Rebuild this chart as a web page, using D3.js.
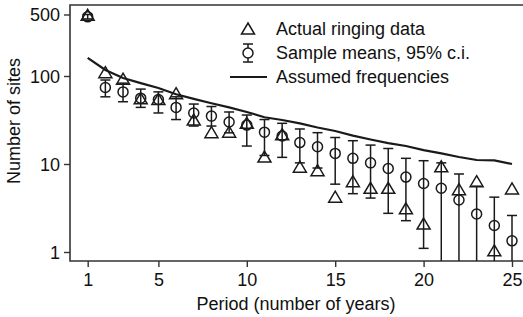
<!doctype html>
<meta charset="utf-8">
<title>Ringing sites</title>
<script src="https://cdn.jsdelivr.net/npm/d3@7/dist/d3.min.js"></script>
<style>
  body { margin: 0; background: #fff; }
  text { font-family: Arial, "Liberation Sans", sans-serif; fill: #111; }
</style>
<svg id="chart" width="523" height="317"></svg>
<script>
  // period in years
  const periods = d3.range(1, 26)
  // actual ringing data (triangles)
  const actual = [490, 109, 92, 55, 54, 63, 31.6, 22.7, 23, 29, 12, 21.5, 9.2, 8.4, 4.2, 6.3, 5.3, 5.3, 3.1, 2.08, 9.3, 5.1, 6.3, 1.03, 5.2]
  // sample means (circles) with 95% c.i.
  const means = [470, 74, 66, 56, 54, 44, 38, 35, 30, 27.7, 23, 20.8, 17.5, 15.7, 13.2, 11.6, 10.3, 8.9, 7.1, 6.0, 5.3, 3.9, 2.7, 2.0, 1.34]
  const ciHigh = [500, 90, 83, 71, 66, 58, 48, 45, 39, 36, 32, 29, 25, 22.7, 20, 18.4, 16.4, 15, 11.6, 10.9, 10.3, 7.7, 5.6, 4.2, 2.6]
  const ciLow = [445, 58, 51, 44, 38, 32, 27, 27, 22.6, 16, 12.5, 11.9, 10.3, 9, 5.9, 4.6, 4.1, 2.75, 2.27, 1.1, 0, 0, 0, 0, 0]
  // assumed frequencies (line)
  const assumed = [161, 117, 95, 83, 73, 62, 55, 49, 44, 39, 34, 31.6, 29, 26, 23.7, 21, 19, 17.3, 16, 14.4, 13.2, 12, 11.1, 11, 10]

  const xTicks = [1, 5, 10, 15, 20, 25]
  const yTicks = [1, 10, 100, 500]

  const plotLeft = 70, plotTop = 5, plotBottom = 261
  const svg = d3.select('#chart')

  const x = d3.scaleLinear().domain([0, 26]).range([plotLeft, plotLeft + 26 * 17.68])
  const y = d3.scaleLog().domain([Math.pow(10, -9 / 88), Math.pow(10, 247 / 88)]).range([plotBottom, plotTop])
  const yc = v => (v <= 0 ? plotBottom : Math.min(plotBottom, y(v)))

  const ink = '#1a1a1a'

  // frame: top, left, bottom
  svg.append('path')
    .attr('d', `M${523},${plotTop} H${plotLeft} V${plotBottom} H${523}`)
    .attr('fill', 'none').attr('stroke', '#333').attr('stroke-width', 1.6)

  // axes
  const xAxis = svg.append('g').attr('transform', `translate(0,${plotBottom})`)
    .call(d3.axisBottom(x).tickValues(xTicks).tickSize(6).tickPadding(6))
  const yAxis = svg.append('g').attr('transform', `translate(${plotLeft},0)`)
    .call(d3.axisLeft(y).tickValues(yTicks).tickFormat(d3.format('d')).tickSize(6).tickPadding(4))
  ;[xAxis, yAxis].forEach(g => {
    g.select('.domain').remove()
    g.selectAll('.tick line').attr('stroke', '#333').attr('stroke-width', 1.4)
    g.selectAll('.tick text').attr('font-size', 18).attr('font-family', 'Arial, "Liberation Sans", sans-serif').attr('fill', '#111')
  })
  yAxis.selectAll('.tick text').attr('dy', '0.35em')

  // axis titles
  svg.append('text')
    .attr('x', 296).attr('y', 310)
    .attr('text-anchor', 'middle').attr('font-size', 18)
    .text('Period (number of years)')
  svg.append('text')
    .attr('transform', 'translate(20,121) rotate(-90)')
    .attr('text-anchor', 'middle').attr('font-size', 18)
    .text('Number of sites')

  // assumed frequencies line
  svg.append('path')
    .datum(periods)
    .attr('fill', 'none').attr('stroke', ink).attr('stroke-width', 2.2)
    .attr('d', d3.line().x(d => x(d)).y((d, i) => y(assumed[i])))

  // error bars
  const eb = svg.append('g').attr('stroke', ink).attr('stroke-width', 1.5).attr('fill', 'none')
  periods.forEach((p, i) => {
    const cx = x(p)
    const y1 = yc(ciHigh[i]), y0 = yc(ciLow[i])
    eb.append('line').attr('x1', cx).attr('x2', cx).attr('y1', y1).attr('y2', y0)
    eb.append('line').attr('x1', cx - 5).attr('x2', cx + 5).attr('y1', y1).attr('y2', y1)
    if (ciLow[i] > 0) {
      eb.append('line').attr('x1', cx - 5).attr('x2', cx + 5).attr('y1', y0).attr('y2', y0)
    }
  })

  // circles (sample means)
  svg.append('g').selectAll('circle')
    .data(periods)
    .join('circle')
    .attr('cx', d => x(d)).attr('cy', (d, i) => y(means[i])).attr('r', 5)
    .attr('fill', 'none').attr('stroke', ink).attr('stroke-width', 1.5)

  // triangles (actual ringing data)
  const tri = (cx, cy) => `M${cx},${cy - 6} L${cx + 6.5},${cy + 5} L${cx - 6.5},${cy + 5} Z`
  svg.append('g').selectAll('path')
    .data(periods)
    .join('path')
    .attr('d', (d, i) => tri(x(d), y(actual[i])))
    .attr('fill', 'none').attr('stroke', ink).attr('stroke-width', 1.5).attr('stroke-linejoin', 'miter')

  // legend
  const lg = svg.append('g')
  lg.append('path').attr('d', tri(248, 29)).attr('fill', 'none').attr('stroke', ink).attr('stroke-width', 1.5)
  lg.append('line').attr('x1', 248).attr('x2', 248).attr('y1', 44).attr('y2', 62).attr('stroke', ink).attr('stroke-width', 1.5)
  lg.append('line').attr('x1', 243).attr('x2', 253).attr('y1', 44).attr('y2', 44).attr('stroke', ink).attr('stroke-width', 1.5)
  lg.append('line').attr('x1', 243).attr('x2', 253).attr('y1', 62).attr('y2', 62).attr('stroke', ink).attr('stroke-width', 1.5)
  lg.append('circle').attr('cx', 248).attr('cy', 53).attr('r', 5).attr('fill', '#fff').attr('stroke', ink).attr('stroke-width', 1.5)
  lg.append('line').attr('x1', 230).attr('x2', 267).attr('y1', 77).attr('y2', 77).attr('stroke', ink).attr('stroke-width', 2.2)
  const labels = ['Actual ringing data', 'Sample means, 95% c.i.', 'Assumed frequencies']
  labels.forEach((t, i) => {
    lg.append('text').attr('x', 276).attr('y', 29 + i * 24).attr('dy', '0.35em')
      .attr('font-size', 18).text(t)
  })
</script>
